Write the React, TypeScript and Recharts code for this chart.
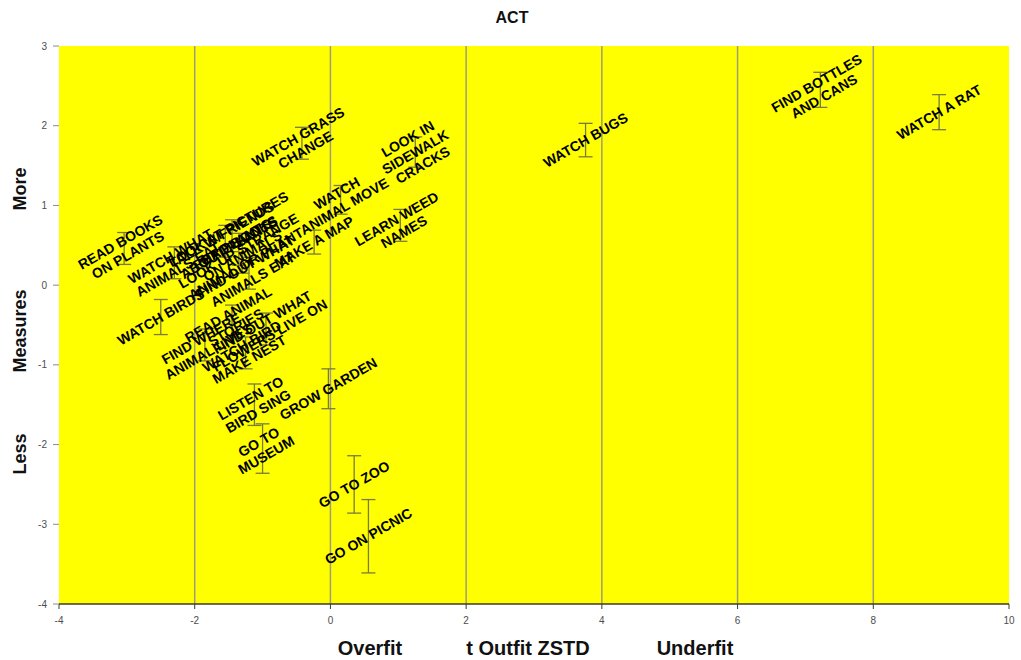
import React from 'react'
import {
  ScatterChart,
  Scatter,
  XAxis,
  YAxis,
  ReferenceArea,
  ReferenceLine,
  ErrorBar,
} from 'recharts'

// ACT "liking for science" items: outfit ZSTD vs. item measure,
// read off the original Excel bubble/fit chart.
const ITEM_LABELS = [
  'WATCH BIRDS',
  'READ BOOKS\nON ANIMALS',
  'READ BOOKS\nON PLANTS',
  'WATCH GRASS\nCHANGE',
  'FIND BOTTLES\nAND CANS',
  'LOOK UP STRANGE\nANIMAL OR PLANT',
  'WATCH\nANIMAL MOVE',
  'LOOK IN\nSIDEWALK\nCRACKS',
  'LEARN WEED\nNAMES',
  'LISTEN TO\nBIRD SING',
  'FIND WHERE\nANIMAL LIVES',
  'GO TO\nMUSEUM',
  'GROW GARDEN',
  'LOOK AT PICTURES\nOF PLANTS',
  'READ ANIMAL\nSTORIES',
  'MAKE A MAP',
  'WATCH WHAT\nANIMALS EAT',
  'GO ON PICNIC',
  'GO TO ZOO',
  'WATCH BUGS',
  'WATCH BIRD\nMAKE NEST',
  'FIND OUT WHAT\nANIMALS EAT',
  'WATCH A RAT',
  'FIND OUT WHAT\nFLOWERS LIVE ON',
  'TALK W/FRIENDS\nABOUT PLANTS',
]

const OUTFIT_ZSTD = [
  -2.5, -1.35, -3.04, -0.42, 7.22, -1.3, 0.15, 1.25, 1.03, -1.12, -1.85, -1.0,
  -0.03, -1.45, -1.45, -0.24, -2.3, 0.56, 0.35, 3.76, -1.25, -1.2, 8.97, -0.95,
  -1.55,
]

const MEASURES = [
  -0.4, 0.45, 0.46, 1.78, 2.45, 0.35, 1.07, 1.67, 0.75, -1.5, -0.75, -2.05,
  -1.3, 0.62, -0.45, 0.54, 0.28, -3.15, -2.5, 1.82, -0.85, 0.15, 2.17, -0.55,
  0.55,
]

const STD_ERRORS = [
  0.22, 0.2, 0.2, 0.2, 0.22, 0.2, 0.18, 0.19, 0.2, 0.26, 0.2, 0.31, 0.25, 0.2,
  0.2, 0.15, 0.2, 0.46, 0.36, 0.21, 0.2, 0.2, 0.22, 0.2, 0.2,
]

const X_TICKS = [-4, -2, 0, 2, 4, 6, 8, 10]
const Y_TICKS = [-4, -3, -2, -1, 0, 1, 2, 3]
const GRID_X = [-2, 0, 2, 4, 6, 8]

const data = ITEM_LABELS.map((label, i) => ({
  label,
  x: OUTFIT_ZSTD[i],
  y: MEASURES[i],
  se: STD_ERRORS[i],
}))

const FONT = '"Liberation Sans", Arial, sans-serif'
const TICK = { fill: '#4d4d4d', fontSize: 10, fontFamily: FONT }
const BAR_STROKE = '#7a7a3c'

// no marker, just the item name tilted up like Excel's rotated data labels
function ItemLabel(props: any) {
  const { cx, cy, payload } = props
  if (cx == null || cy == null) return null
  const lines = String(payload.label).split('\n')
  const lh = 15
  const y0 = cy - ((lines.length - 1) * lh) / 2
  return (
    <text
      transform={`rotate(-30 ${cx} ${cy})`}
      textAnchor="middle"
      fontFamily={FONT}
      fontSize={14}
      fontWeight="bold"
      fill="#000"
    >
      {lines.map((l, i) => (
        <tspan key={i} x={cx} y={y0 + i * lh} dy="0.35em">
          {l}
        </tspan>
      ))}
    </text>
  )
}

const labelStyle: React.CSSProperties = {
  position: 'absolute',
  transform: 'translate(-50%, -50%)',
  fontFamily: FONT,
  fontWeight: 'bold',
  whiteSpace: 'nowrap',
  color: '#111',
}

export default function App() {
  return (
    <div
      style={{
        position: 'fixed',
        left: 0,
        top: 0,
        width: 1021,
        height: 660,
        background: '#fff',
      }}
    >
      <ScatterChart
        width={1021}
        height={660}
        margin={{ top: 46, right: 12, bottom: 26, left: 0 }}
      >
        <XAxis
          type="number"
          dataKey="x"
          domain={[-4, 10]}
          ticks={X_TICKS}
          tick={TICK}
          tickSize={5}
          tickMargin={8}
          tickLine={{ stroke: '#3d3d2a' }}
          axisLine={{ stroke: '#3d3d2a', strokeWidth: 1.5 }}
          height={30}
        />
        <YAxis
          type="number"
          dataKey="y"
          domain={[-4, 3]}
          ticks={Y_TICKS}
          tick={TICK}
          tickSize={6}
          tickMargin={6}
          tickLine={{ stroke: '#8a8a8a' }}
          axisLine={false}
          width={59}
        />
        <ReferenceArea
          x1={-4}
          x2={10}
          y1={-4}
          y2={3}
          fill="#ffff00"
          fillOpacity={1}
          stroke="none"
        />
        {GRID_X.map((v) => (
          <ReferenceLine key={v} x={v} stroke="#9e9e78" strokeWidth={1.5} />
        ))}
        <Scatter data={data} shape={ItemLabel} isAnimationActive={false}>
          <ErrorBar
            dataKey="se"
            direction="y"
            width={7}
            stroke={BAR_STROKE}
            strokeWidth={1.3}
          />
        </Scatter>
      </ScatterChart>

      <div style={{ ...labelStyle, left: 512, top: 18, fontSize: 16 }}>ACT</div>

      <div style={{ ...labelStyle, left: 370, top: 648, fontSize: 20 }}>Overfit</div>
      <div style={{ ...labelStyle, left: 528, top: 648, fontSize: 20 }}>
        t Outfit ZSTD
      </div>
      <div style={{ ...labelStyle, left: 695, top: 648, fontSize: 20 }}>Underfit</div>

      <div
        style={{ ...labelStyle, left: 20, top: 189, fontSize: 18, transform: 'translate(-50%, -50%) rotate(-90deg)' }}
      >
        More
      </div>
      <div
        style={{ ...labelStyle, left: 20, top: 331, fontSize: 18, transform: 'translate(-50%, -50%) rotate(-90deg)' }}
      >
        Measures
      </div>
      <div
        style={{ ...labelStyle, left: 20, top: 454, fontSize: 18, transform: 'translate(-50%, -50%) rotate(-90deg)' }}
      >
        Less
      </div>
    </div>
  )
}
